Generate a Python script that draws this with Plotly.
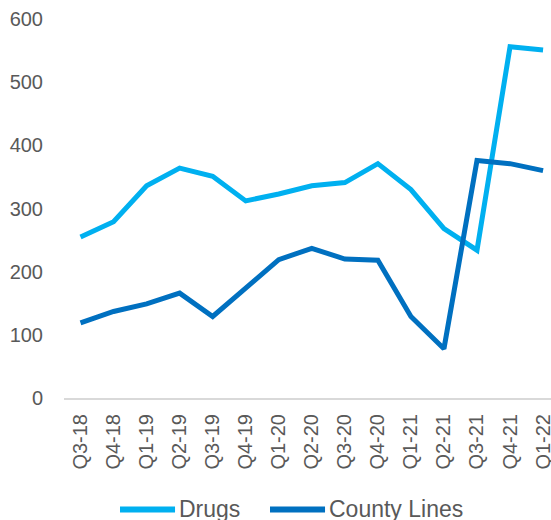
import plotly.graph_objects as go

categories = ["Q3-18", "Q4-18", "Q1-19", "Q2-19", "Q3-19", "Q4-19", "Q1-20", "Q2-20",
              "Q3-20", "Q4-20", "Q1-21", "Q2-21", "Q3-21", "Q4-21", "Q1-22"]
drugs = [255, 279, 336, 364, 351, 312, 323, 336, 341, 371, 330, 268, 234, 556, 551]
county_lines = [119, 137, 149, 166, 129, 174, 219, 237, 220, 218, 129, 78, 376, 371, 360]
y_ticks = [0, 100, 200, 300, 400, 500, 600]

series_names = ["Drugs", "County Lines"]
colors = ["#00B0F0", "#0070C0"]

FONT = "Liberation Sans, Arial, sans-serif"
GRAY = "#595959"

fig = go.Figure()
for name, vals, col in zip(series_names, [drugs, county_lines], colors):
    fig.add_trace(go.Scatter(x=categories, y=vals, mode="lines", name=name,
                             line=dict(color=col, width=5), showlegend=False))

# custom legend (long line swatches like the original)
leg_y = -0.294
swatches = [(0.115, 0.228, 0.232), (0.423, 0.536, 0.540)]
for (x0, x1, xt), name, col in zip(swatches, series_names, colors):
    fig.add_shape(type="line", xref="paper", yref="paper", x0=x0, x1=x1, y0=leg_y, y1=leg_y,
                  line=dict(color=col, width=6))
    fig.add_annotation(xref="paper", yref="paper", x=xt, y=leg_y, text=name, showarrow=False,
                       xanchor="left", yanchor="middle",
                       font=dict(family=FONT, size=23, color=GRAY))

fig.update_layout(
    width=551, height=520,
    margin=dict(l=64, r=0, t=19, b=122),
    paper_bgcolor="white", plot_bgcolor="white",
    font=dict(family=FONT, color=GRAY),
)
fig.update_xaxes(type="category", range=[-0.5, 14.24], showgrid=False, automargin=False,
                 showline=True, linecolor="#D9D9D9", linewidth=2,
                 tickangle=-90, tickfont=dict(family=FONT, size=20, color=GRAY),
                 ticks="outside", ticklen=6, tickcolor="rgba(0,0,0,0)")
fig.update_yaxes(range=[0, 600], tickvals=y_ticks, showgrid=False, zeroline=False,
                 showline=False, automargin=False,
                 tickfont=dict(family=FONT, size=20, color=GRAY),
                 ticks="outside", ticklen=16, tickcolor="rgba(0,0,0,0)")

fig.write_html("out.html", config={"displayModeBar": False},
               post_script="document.body.style.margin='0';document.body.style.overflow='hidden';")
